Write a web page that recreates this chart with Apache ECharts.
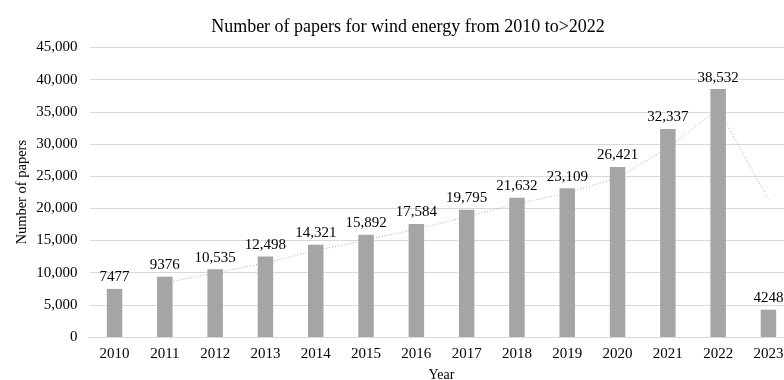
<!DOCTYPE html>
<html>
<head>
<meta charset="utf-8">
<script src="https://cdn.jsdelivr.net/npm/echarts@6/dist/echarts.min.js"></script>
<style>
  html, body { margin: 0; padding: 0; background: #fff; }
  #chart { width: 784px; height: 380px; }
</style>
</head>
<body>
<div id="chart"></div>
<script>
// Yearly publication counts
const years = ['2010', '2011', '2012', '2013', '2014', '2015', '2016',
               '2017', '2018', '2019', '2020', '2021', '2022', '2023'];
const papers = [7477, 9376, 10535, 12498, 14321, 15892, 17584,
                19795, 21632, 23109, 26421, 32337, 38532, 4248];
// Two-period moving average trendline
const trend = [null, 8427, 9956, 11517, 13410, 15107, 16738,
               18690, 20714, 22371, 24765, 29379, 35435, 21390];
const yTicks = { min: 0, max: 45000, step: 5000 };

const FONT = 'Liberation Serif';
const chart = echarts.init(document.getElementById('chart'));

chart.setOption({
  animation: false,
  textStyle: { fontFamily: FONT },
  title: {
    text: 'Number of papers for wind energy from 2010 to>2022',
    left: 403,
    textAlign: 'center',
    top: 13,
    textStyle: { fontFamily: FONT, fontSize: 18, fontWeight: 'normal', color: '#000' }
  },
  grid: {
    left: 89.4, right: -9.6, top: 47.5, bottom: 43,
    containLabel: false,
    outerBoundsMode: 'none'
  },
  xAxis: {
    type: 'category',
    data: years,
    name: 'Year',
    nameLocation: 'middle',
    nameGap: 31,
    nameMoveOverlap: false,
    nameTextStyle: { fontFamily: FONT, fontSize: 14, color: '#000' },
    axisLine: { lineStyle: { color: '#D9D9D9' } },
    axisTick: { show: false },
    axisLabel: { fontFamily: FONT, fontSize: 15, color: '#000', margin: 10, hideOverlap: false }
  },
  yAxis: {
    type: 'value',
    min: yTicks.min,
    max: yTicks.max,
    interval: yTicks.step,
    name: 'Number of papers',
    nameLocation: 'middle',
    nameGap: 60,
    nameMoveOverlap: false,
    nameTextStyle: { fontFamily: FONT, fontSize: 14.5, color: '#000' },
    axisLine: { show: false },
    axisTick: { show: false },
    splitLine: { lineStyle: { color: '#D9D9D9' } },
    axisLabel: {
      fontFamily: FONT, fontSize: 15, color: '#000', margin: 12,
      formatter: v => v.toLocaleString('en-US')
    }
  },
  series: [
    {
      type: 'bar',
      data: papers,
      barWidth: 15.5,
      itemStyle: { color: '#A5A5A5' },
      label: {
        show: true,
        position: 'top',
        distance: 4,
        fontFamily: FONT,
        fontSize: 15,
        color: '#000',
        formatter: p => p.value >= 10000 ? p.value.toLocaleString('en-US') : String(p.value)
      },
      z: 2
    },
    {
      type: 'line',
      data: trend,
      symbol: 'none',
      connectNulls: false,
      lineStyle: { color: '#ABABAB', width: 1, type: [1, 2] },
      z: 3
    }
  ]
});
</script>
</body>
</html>
